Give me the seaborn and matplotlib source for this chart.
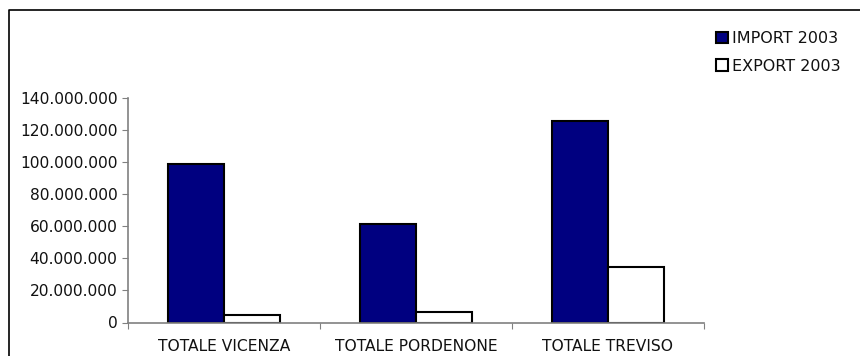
import matplotlib
matplotlib.use("Agg")
import matplotlib.pyplot as plt
from matplotlib.lines import Line2D
from matplotlib.ticker import FuncFormatter, FixedLocator
import seaborn as sns
import pandas as pd

# Import / export totals per province, 2003
regions = ["TOTALE VICENZA", "TOTALE PORDENONE", "TOTALE TREVISO"]
import_2003 = [98_800_000, 61_400_000, 125_600_000]
export_2003 = [4_700_000, 6_700_000, 34_800_000]
series_names = ["IMPORT 2003", "EXPORT 2003"]
y_ticks = [0, 20_000_000, 40_000_000, 60_000_000, 80_000_000,
           100_000_000, 120_000_000, 140_000_000]

df = pd.DataFrame({
    "region": regions * 2,
    "series": [series_names[0]] * len(regions) + [series_names[1]] * len(regions),
    "value": import_2003 + export_2003,
})

sns.set_theme(style="white")
plt.rcParams["font.family"] = ["DejaVu Sans"]

fig = plt.figure(figsize=(8.6, 3.56), dpi=100)
ax = fig.add_axes([128 / 860, 33.5 / 356, 576 / 860, 224.5 / 356])

sns.barplot(
    data=df, x="region", y="value", hue="series", order=regions,
    hue_order=series_names, palette=["#000080", "#ffffff"],
    width=0.58, edgecolor="black", linewidth=1.5, saturation=1,
    ax=ax, legend=False,
)

ax.set_xlim(-0.5, len(regions) - 0.5)
ax.set_ylim(0, y_ticks[-1])
ax.set_xlabel("")
ax.set_ylabel("")

# y axis: dotted-thousands labels
ax.yaxis.set_major_locator(FixedLocator(y_ticks))
ax.yaxis.set_major_formatter(FuncFormatter(lambda v, _: f"{v:,.0f}".replace(",", ".")))
ax.tick_params(axis="y", which="major", left=True, length=4.5, width=0.8,
               color="#808080", labelsize=11.2, labelcolor="#111111", pad=3)

# x axis: tick marks at category boundaries, labels centred under groups
ax.xaxis.set_major_locator(FixedLocator([i - 0.5 for i in range(len(regions) + 1)]))
ax.xaxis.set_minor_locator(FixedLocator(list(range(len(regions)))))
ax.set_xticklabels([""] * (len(regions) + 1))
ax.set_xticklabels(regions, minor=True)
ax.tick_params(axis="x", which="major", bottom=True, length=4, width=0.8, color="#808080")
ax.tick_params(axis="x", which="minor", bottom=True, length=0, labelsize=11.2,
               labelcolor="#111111", pad=12)

for side in ("top", "right"):
    ax.spines[side].set_visible(False)
for side in ("left", "bottom"):
    ax.spines[side].set_color("#808080")
    ax.spines[side].set_linewidth(1.2)

# legend in the upper right
handles = [
    plt.Rectangle((0, 0), 1, 1, facecolor="#000080", edgecolor="black", linewidth=1.5),
    plt.Rectangle((0, 0), 1, 1, facecolor="#ffffff", edgecolor="black", linewidth=1.5),
]
fig.legend(handles, series_names, loc="upper left",
           bbox_to_anchor=(708 / 860, 1 - 23 / 356), frameon=False,
           fontsize=11.5, handlelength=0.75, handleheight=0.75,
           handletextpad=0.25, labelspacing=0.8, borderpad=0,
           labelcolor="#111111")

# outer chart frame (left and top edges)
fig.add_artist(Line2D([9 / 860, 9 / 860, 1.01], [-0.01, 1 - 10 / 356, 1 - 10 / 356],
                      transform=fig.transFigure, color="black", linewidth=1.2))

fig.savefig("out.png", dpi=100)
